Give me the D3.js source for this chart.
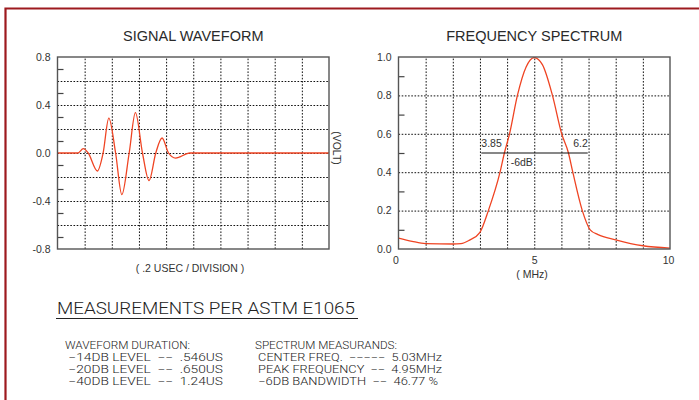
<!DOCTYPE html>
<html>
<head>
<meta charset="utf-8">
<script src="https://cdn.jsdelivr.net/npm/d3@7"></script>
<style>
  body { margin: 0; background: #fff; }
  svg { display: block; font-family: "Liberation Sans", Arial, sans-serif; }
  .mono { font-family: Roboto, "DejaVu Sans", sans-serif; font-weight: 300; white-space: pre; }
</style>
</head>
<body>
<svg id="chart" width="699" height="400"></svg>
<script>
// signal waveform, time in divisions (0.2 us / division), volts
const waveT = [0, 0.75, 0.95, 1.13, 1.47, 1.68, 1.89, 2.14, 2.37, 2.64, 2.87, 3.13, 3.37, 3.62, 3.85, 4.09, 4.35, 4.88, 10];
const waveV = [0, 0, 0.036, 0, -0.15, 0, 0.29, 0, -0.347, 0, 0.336, 0, -0.23, 0, 0.125, 0, -0.042, 0, 0];

// frequency spectrum, MHz vs normalised amplitude
const specF = [0, 0.5, 1, 2, 2.3, 2.6, 3.0, 3.31, 3.74, 3.9, 4.09, 4.38, 4.7, 5.0, 5.3, 5.67, 6.01, 6.26, 6.42, 6.77, 7.06, 7.35, 8, 9, 10];
const specA = [0.057, 0.04, 0.028, 0.026, 0.028, 0.045, 0.087, 0.2, 0.4, 0.5, 0.6, 0.8, 0.948, 0.997, 0.96, 0.8, 0.6, 0.5, 0.4, 0.2, 0.1, 0.075, 0.048, 0.017, 0.005];

const waveYLabels = [0.8, 0.4, 0, -0.4, -0.8];
const waveYGrid = [0.6, 0.4, 0.2, 0, -0.2, -0.4, -0.6];
const waveYMinor = [0.7, 0.5, 0.3, 0.1, -0.1, -0.3, -0.5, -0.7];
const specYLabels = [0, 0.2, 0.4, 0.6, 0.8, 1.0];
const specYMinor = [0.9, 0.7, 0.5, 0.3, 0.1];
const specXLabels = [0, 5, 10];
const xGrid = [1, 2, 3, 4, 5, 6, 7, 8, 9];

// -6dB band annotation
const bwLow = 3.85, bwHigh = 6.2, bwLevel = 0.5;
const bwLine = [3.05, 6.97];

const measTitle = "MEASUREMENTS PER ASTM E1065";
const durationRows = ["WAVEFORM DURATION:", " \u221214DB LEVEL  \u2212\u2212  .546US", " \u221220DB LEVEL  \u2212\u2212  .650US", " \u221240DB LEVEL  \u2212\u2212  1.24US"];
const spectrumRows = ["SPECTRUM MEASURANDS:", " CENTER FREQ.  \u2212\u2212\u2212\u2212\u2212  5.03MHz", " PEAK FREQUENCY  \u2212\u2212  4.95MHz", " \u22126DB BANDWIDTH  \u2212\u2212  46.77 %"];

const svg = d3.select("#chart");
const fmt = (d) => d3.format(".1f")(d).replace("\u2212", "-");
const plotTop = 57, plotBottom = 249;
const ink = "#333";

// red page frame
svg.append("path")
  .attr("d", "M5.5,400V8.5H699")
  .attr("fill", "none")
  .attr("stroke", "#9d1a1f")
  .attr("stroke-width", 2.2);

function panel({ x0, x1, yDomain, grid, minor, labels, title, xs, ys, curve }) {
  const x = d3.scaleLinear().domain([0, 10]).range([x0, x1]);
  const y = d3.scaleLinear().domain(yDomain).range([plotBottom, plotTop]);
  const g = svg.append("g");

  g.append("g")
    .attr("transform", `translate(${x0},0)`)
    .call(d3.axisLeft(y).tickValues(grid).tickSize(-(x1 - x0)).tickFormat(""))
    .call((a) => a.select(".domain").remove())
    .selectAll("line").attr("stroke", "#111").attr("stroke-dasharray", "1.6,1.6");
  g.append("g")
    .attr("transform", `translate(0,${plotBottom})`)
    .call(d3.axisBottom(x).tickValues(xGrid).tickSize(-(plotBottom - plotTop)).tickFormat(""))
    .call((a) => a.select(".domain").remove())
    .selectAll("line").attr("stroke", "#111").attr("stroke-dasharray", "1.6,1.6");
  g.append("g")
    .attr("transform", `translate(${x0},0)`)
    .call(d3.axisLeft(y).tickValues(minor).tickSize(-6).tickFormat(""))
    .call((a) => a.select(".domain").remove())
    .selectAll("line").attr("stroke", "#444").attr("stroke-width", 1.2);

  g.append("g")
    .attr("transform", `translate(${x0},0)`)
    .call(d3.axisLeft(y).tickValues(labels).tickSize(0).tickPadding(7).tickFormat(fmt))
    .call((a) => a.select(".domain").remove())
    .selectAll("text").attr("font-size", 10.5).attr("fill", ink).attr("font-family", "Liberation Sans, Arial, sans-serif");

  const clipId = "clip" + Math.round(x0);
  svg.append("clipPath").attr("id", clipId)
    .append("rect").attr("x", x0).attr("y", plotTop).attr("width", x1 - x0).attr("height", plotBottom - plotTop);

  g.append("path")
    .datum(d3.zip(xs, ys))
    .attr("clip-path", `url(#${clipId})`)
    .attr("fill", "none")
    .attr("stroke", "#ef4423")
    .attr("stroke-width", 1.3)
    .attr("d", d3.line().x((d) => x(d[0])).y((d) => y(d[1])).curve(curve));

  g.append("rect")
    .attr("x", x0).attr("y", plotTop)
    .attr("width", x1 - x0).attr("height", plotBottom - plotTop)
    .attr("fill", "none").attr("stroke", "#555").attr("stroke-width", 1.4);

  g.append("text")
    .attr("x", (x0 + x1) / 2).attr("y", 41)
    .attr("text-anchor", "middle")
    .attr("font-size", 14.5).attr("fill", "#2a2a2a")
    .text(title);

  return { g, x, y };
}

const left = panel({
  x0: 57.5, x1: 329, yDomain: [-0.8, 0.8],
  grid: waveYGrid, minor: waveYMinor, labels: waveYLabels,
  title: "SIGNAL WAVEFORM", xs: waveT, ys: waveV, curve: d3.curveMonotoneX,
});
left.g.append("text")
  .attr("x", 190).attr("y", 272)
  .attr("text-anchor", "middle").attr("font-size", 10.5).attr("fill", ink)
  .text("( .2 USEC / DIVISION )");
left.g.append("text")
  .attr("transform", "translate(333,148) rotate(90)")
  .attr("text-anchor", "middle").attr("font-size", 10.5).attr("fill", ink)
  .text("(VOLT)");

const right = panel({
  x0: 398.5, x1: 670, yDomain: [0, 1],
  grid: [0.2, 0.4, 0.6, 0.8], minor: specYMinor, labels: specYLabels,
  title: "FREQUENCY SPECTRUM", xs: specF, ys: specA, curve: d3.curveMonotoneX,
});
right.g.append("g")
  .attr("transform", `translate(0,${plotBottom})`)
  .call(d3.axisBottom(right.x).tickValues(specXLabels).tickSize(0).tickPadding(8))
  .call((a) => a.select(".domain").remove())
  .selectAll("text").attr("font-size", 10.5).attr("fill", ink).attr("font-family", "Liberation Sans, Arial, sans-serif")
  .attr("dx", (d) => (d === 0 ? -3 : d === 10 ? -2 : 0));
right.g.append("text")
  .attr("x", 532).attr("y", 278)
  .attr("text-anchor", "middle").attr("font-size", 10.5).attr("fill", ink)
  .text("( MHz)");

// -6dB annotation
right.g.append("line")
  .attr("x1", right.x(bwLine[0])).attr("x2", right.x(bwLine[1]))
  .attr("y1", right.y(bwLevel)).attr("y2", right.y(bwLevel))
  .attr("stroke", "#111").attr("stroke-width", 1.2);
right.g.append("text")
  .attr("x", right.x(bwLine[0])).attr("y", right.y(bwLevel) - 6)
  .attr("font-size", 10.5).attr("fill", ink).text(bwLow);
right.g.append("text")
  .attr("x", right.x(bwLine[1])).attr("y", right.y(bwLevel) - 6)
  .attr("text-anchor", "end").attr("font-size", 10.5).attr("fill", ink).text(bwHigh);
right.g.append("text")
  .attr("x", right.x(4.54)).attr("y", right.y(bwLevel) + 13)
  .attr("text-anchor", "middle").attr("font-size", 10.5).attr("fill", ink).text("-6dB");

// measurement block
svg.append("text").attr("class", "mono")
  .attr("x", 57).attr("y", 313.5)
  .attr("font-size", 16.5).attr("fill", "#222")
  .attr("textLength", 298).attr("lengthAdjust", "spacingAndGlyphs")
  .text(measTitle);
svg.append("line")
  .attr("x1", 56).attr("x2", 358).attr("y1", 318.5).attr("y2", 318.5)
  .attr("stroke", "#222").attr("stroke-width", 1.2);

const rowY = [348.5, 360.5, 372.5, 384.5];
const durLen = [125, 158, 158, 158];
const specLen = [142, 187, 187, 183];
svg.append("g").selectAll("text").data(durationRows).join("text")
  .attr("class", "mono")
  .attr("x", 65).attr("y", (_, i) => rowY[i])
  .attr("font-size", 11).attr("fill", "#1a1a1a")
  .attr("textLength", (_, i) => durLen[i]).attr("lengthAdjust", "spacingAndGlyphs")
  .text((d) => d);
svg.append("g").selectAll("text").data(spectrumRows).join("text")
  .attr("class", "mono")
  .attr("x", 255).attr("y", (_, i) => rowY[i])
  .attr("font-size", 11).attr("fill", "#1a1a1a")
  .attr("textLength", (_, i) => specLen[i]).attr("lengthAdjust", "spacingAndGlyphs")
  .text((d) => d);
</script>
</body>
</html>
